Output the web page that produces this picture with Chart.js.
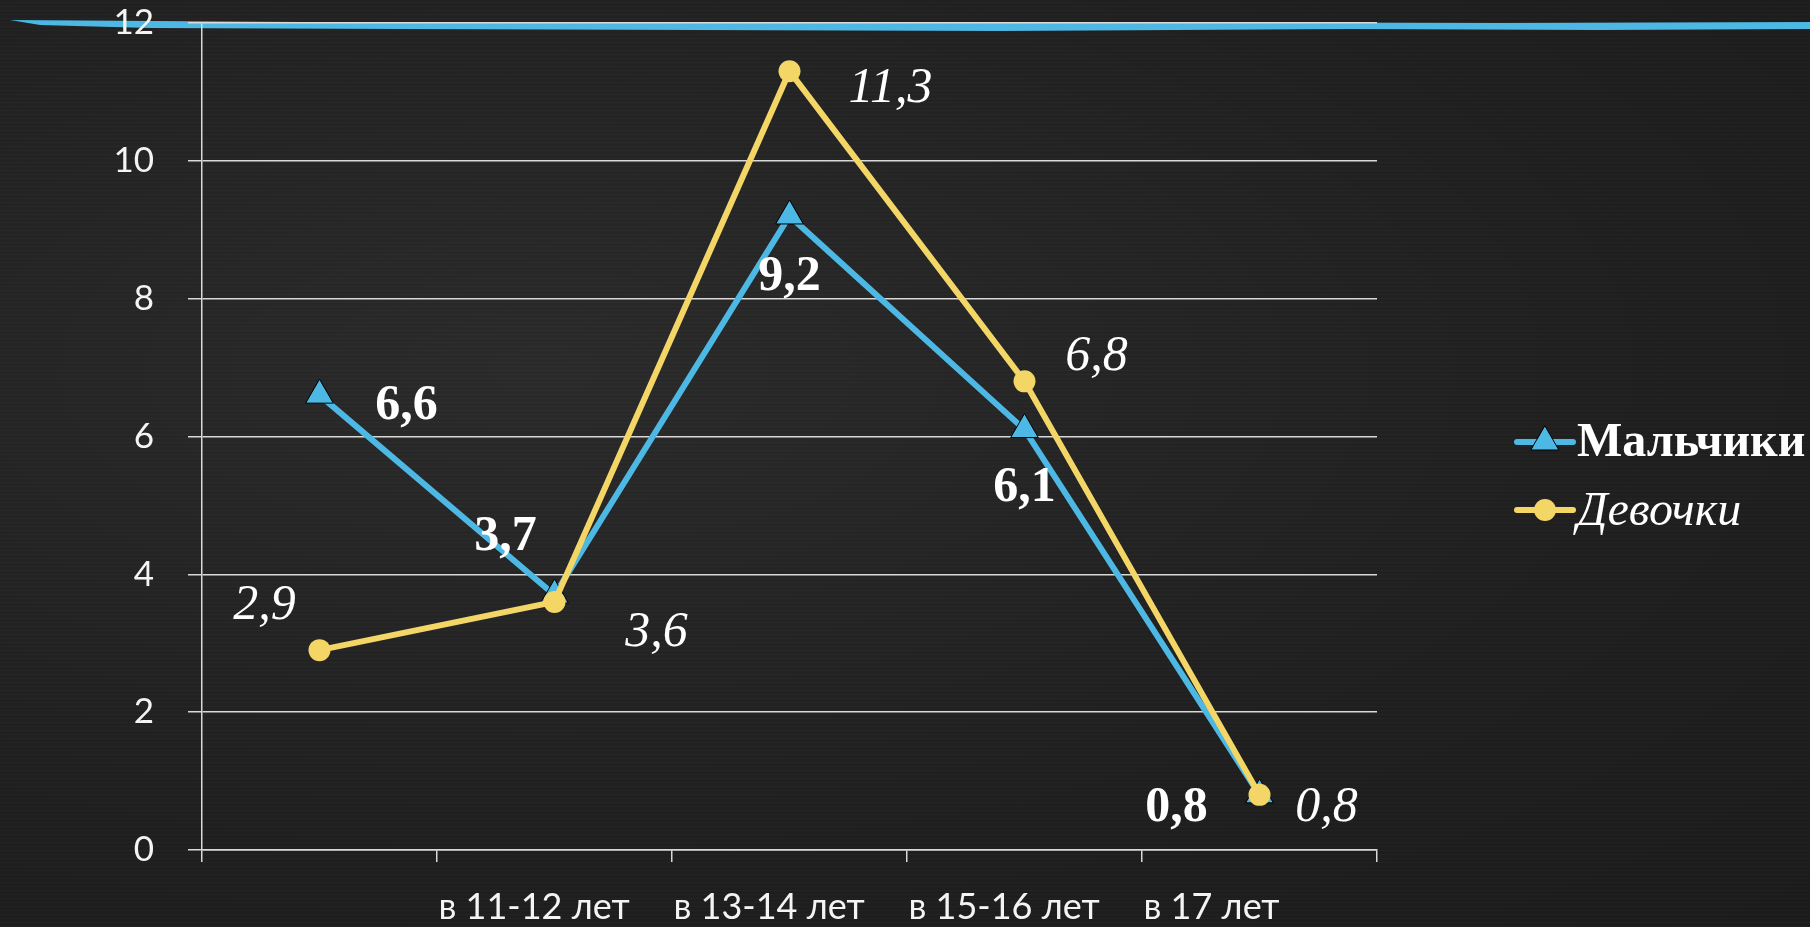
<!DOCTYPE html>
<html lang="ru">
<head>
<meta charset="utf-8">
<title>Мальчики / Девочки</title>
<script src="https://cdn.jsdelivr.net/npm/chart.js@4"></script>
<style>
  html, body { margin: 0; padding: 0; overflow: hidden; }
  body {
    width: 1810px; height: 927px;
    background-color: #222;
    background-image:
      repeating-linear-gradient(0deg, rgba(255,255,255,0.025) 0px, rgba(255,255,255,0.025) 1px, transparent 1px, transparent 4px),
      radial-gradient(ellipse at 30% 40%, #2a2a2a 0%, #1f1f1f 60%, #1b1b1b 100%);
  }
  #wrap { position: relative; width: 1810px; height: 927px; }
</style>
</head>
<body>
<div id="wrap"><canvas id="graph"></canvas></div>
<script>
// Данные диаграммы
const categories = ['', 'в 11-12 лет', 'в 13-14 лет', 'в 15-16 лет', 'в 17 лет'];
const boysData = [6.6, 3.7, 9.2, 6.1, 0.8];
const girlsData = [2.9, 3.6, 11.3, 6.8, 0.8];
const yTicks = [0, 2, 4, 6, 8, 10, 12];

// Смещения подписей значений (в пикселях)
const boysLabelShift = [[87, 11], [-49, -58], [0, 61], [0, 58], [-83, 13]];
const girlsLabelShift = [[-55, -44], [102, 31], [101, 18], [72, -25], [67, 13]];

const BLUE = '#4DB8E3';
const YELLOW = '#F3D666';
const GRID = '#d9d9d9';
const SERIF = '"Liberation Serif", "DejaVu Serif", serif';

// Синий мазок кистью сверху
const brushStroke = {
    id: 'brushStroke',
    beforeDraw(chart) {
        const c = chart.ctx;
        c.save();
        c.fillStyle = BLUE;
        c.beginPath();
        c.moveTo(10, 20);
        c.lineTo(300, 22);
        c.lineTo(700, 23);
        c.lineTo(1100, 22);
        c.lineTo(1500, 23);
        c.lineTo(1810, 22);
        c.lineTo(1810, 29);
        c.lineTo(1600, 30);
        c.lineTo(1350, 29);
        c.lineTo(1000, 31);
        c.lineTo(700, 30);
        c.lineTo(400, 29);
        c.lineTo(150, 28);
        c.lineTo(40, 25);
        c.closePath();
        c.fill();
        c.restore();
    }
};

// Подписи значений у точек
const valueLabels = {
    id: 'valueLabels',
    afterDatasetsDraw(chart) {
        const c = chart.ctx;
        c.save();
        c.fillStyle = '#ffffff';
        c.textAlign = 'center';
        c.textBaseline = 'middle';
        chart.data.datasets.forEach((ds, di) => {
            const meta = chart.getDatasetMeta(di);
            c.font = ds.labelFont;
            meta.data.forEach((pt, i) => {
                const s = ds.labelShift[i];
                c.fillText(String(ds.data[i]).replace('.', ','), pt.x + s[0], pt.y + s[1]);
            });
        });
        c.restore();
    }
};

// Легенда справа
const sideLegend = {
    id: 'sideLegend',
    afterDraw(chart) {
        const c = chart.ctx;
        const x0 = chart.chartArea.right + 140;
        const rows = [442, 510];
        c.save();
        chart.data.datasets.forEach((ds, di) => {
            const y = rows[di];
            const cx = x0 + 28;
            c.strokeStyle = ds.borderColor;
            c.lineWidth = 6;
            c.lineCap = 'round';
            c.beginPath();
            c.moveTo(x0, y);
            c.lineTo(x0 + 56, y);
            c.stroke();
            c.fillStyle = ds.pointBackgroundColor;
            c.strokeStyle = ds.pointBorderColor;
            c.lineWidth = ds.pointBorderWidth;
            c.beginPath();
            if (ds.pointStyle === 'triangle') {
                const r = ds.pointRadius;
                c.moveTo(cx, y - r);
                c.lineTo(cx + r * 0.866, y + r * 0.5);
                c.lineTo(cx - r * 0.866, y + r * 0.5);
                c.closePath();
            } else {
                c.arc(cx, y, ds.pointRadius, 0, Math.PI * 2);
            }
            c.fill();
            if (ds.pointBorderWidth) c.stroke();
            c.fillStyle = '#ffffff';
            c.font = ds.legendFont;
            c.textAlign = 'left';
            c.textBaseline = 'middle';
            c.fillText(ds.label, x0 + 60, y + 2);
        });
        c.restore();
    }
};

const ctx = document.getElementById('graph');

new Chart(ctx, {
    type: 'line',
    data: {
        labels: categories,
        datasets: [{
            label: 'Мальчики',
            data: boysData,
            borderColor: BLUE,
            borderWidth: 6,
            pointStyle: 'triangle',
            pointRadius: 16,
            pointHoverRadius: 16,
            pointBackgroundColor: BLUE,
            pointBorderColor: '#000',
            pointBorderWidth: 1,
            labelFont: 'bold 50px ' + SERIF,
            legendFont: 'bold 48px ' + SERIF,
            labelShift: boysLabelShift,
            order: 1
        }, {
            label: 'Девочки',
            data: girlsData,
            borderColor: YELLOW,
            borderWidth: 6,
            pointStyle: 'circle',
            pointRadius: 11,
            pointHoverRadius: 11,
            pointBackgroundColor: YELLOW,
            pointBorderColor: YELLOW,
            pointBorderWidth: 0,
            labelFont: 'italic 50px ' + SERIF,
            legendFont: 'italic 48px ' + SERIF,
            labelShift: girlsLabelShift,
            order: 0
        }]
    },
    options: {
        responsive: true,
        maintainAspectRatio: false,
        animation: false,
        layout: {
            padding: { top: 23, right: 433, left: 0, bottom: 0 }
        },
        scales: {
            x: {
                type: 'category',
                offset: true,
                grid: {
                    offset: true,
                    drawOnChartArea: false,
                    drawTicks: true,
                    tickLength: 12,
                    color: GRID,
                    lineWidth: 1.5
                },
                border: { color: GRID, width: 1.5 },
                ticks: {
                    color: '#f4f4f4',
                    font: { family: 'Lato', size: 36 },
                    align: 'start',
                    labelOffset: -116,
                    padding: 24,
                    maxRotation: 0,
                    autoSkip: false
                },
                afterFit: s => { s.height = 77; s.paddingLeft = 0; s.paddingRight = 0; }
            },
            y: {
                min: 0,
                max: 12,
                afterBuildTicks: s => { s.ticks = yTicks.map(v => ({ value: v })); },
                grid: {
                    color: GRID,
                    lineWidth: 1.5,
                    tickLength: 14
                },
                border: { color: GRID, width: 1.5 },
                ticks: {
                    color: '#f4f4f4',
                    font: { family: 'Lato', size: 35 },
                    padding: 34
                },
                afterFit: s => { s.width = 202; s.paddingTop = 0; s.paddingBottom = 0; }
            }
        },
        plugins: {
            legend: { display: false },
            title: { display: false },
            tooltip: { enabled: false }
        }
    },
    plugins: [brushStroke, valueLabels, sideLegend]
});
</script>
</body>
</html>
